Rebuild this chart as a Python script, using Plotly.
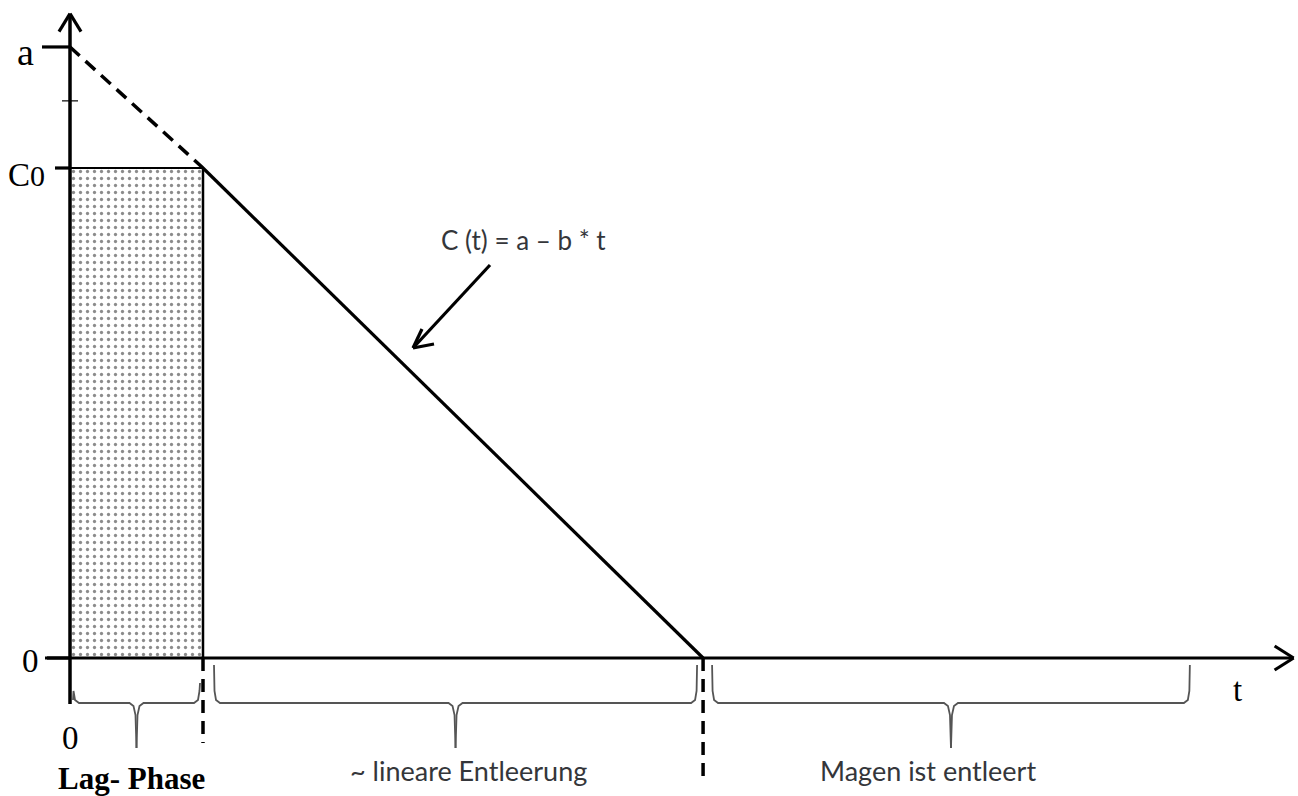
import plotly.graph_objects as go

# ---- data (diagram values, data units) ----
t_lag = 1.0          # end of lag phase
t_empty = 4.76       # stomach empty
t_end = 8.42         # end of last brace
t_axis_end = 9.2     # x-axis arrow tip
C0 = 1.0             # initial content
a_val = 1.247        # intercept a
mid_tick = 1.137     # unlabeled tick between C0 and a
y_axis_top = 1.315
y_ticks = [0.0, C0, a_val]
y_tick_labels = ["0", "C", "a"]
phase_labels = ["<b>Lag- Phase</b>", "~ lineare Entleerung", "Magen ist entleert"]
formula = "C (t) = a \u2013 b * t"

W, H = 1298, 796
OX, OY = 70, 658      # pixel origin
SX, SY = 133.0, 490.0  # pixels per unit


def X(px):
    return (px - OX) / SX


def Y(py):
    return (OY - py) / SY


def PX(x):
    return OX + x * SX


def PY(y):
    return OY - y * SY


fig = go.Figure()
BLACK = "#000000"
DASH = "13px,8px"

# hatched lag-phase rectangle
fig.add_trace(go.Scatter(
    x=[0, t_lag, t_lag, 0, 0], y=[0, 0, C0, C0, 0], mode="lines",
    fill="toself", fillcolor="rgba(255,255,255,0)",
    fillpattern=dict(shape=".", fgcolor="#1a1a1a", bgcolor="white", size=7, solidity=0.17),
    line=dict(color=BLACK, width=2), hoverinfo="skip", showlegend=False))

# dashed extrapolation from a to C0
fig.add_trace(go.Scatter(x=[0, t_lag], y=[a_val, C0], mode="lines",
                         line=dict(color=BLACK, width=3.5, dash=DASH),
                         hoverinfo="skip", showlegend=False))
# linear emptying
fig.add_trace(go.Scatter(x=[t_lag, t_empty], y=[C0, 0], mode="lines",
                         line=dict(color=BLACK, width=3.2), hoverinfo="skip", showlegend=False))

# vertical dashed markers
fig.add_trace(go.Scatter(x=[t_lag, t_lag], y=[C0, 0], mode="lines",
                         line=dict(color=BLACK, width=2.5),
                         hoverinfo="skip", showlegend=False))
fig.add_trace(go.Scatter(x=[t_lag, t_lag], y=[0, Y(743)], mode="lines",
                         line=dict(color=BLACK, width=3.5, dash=DASH),
                         hoverinfo="skip", showlegend=False))
fig.add_trace(go.Scatter(x=[t_empty, t_empty], y=[0, Y(784)], mode="lines",
                         line=dict(color=BLACK, width=3.5, dash=DASH),
                         hoverinfo="skip", showlegend=False))

# axes
fig.add_trace(go.Scatter(x=[X(45), t_axis_end], y=[0, 0], mode="lines",
                         line=dict(color=BLACK, width=3.2), hoverinfo="skip", showlegend=False))
fig.add_trace(go.Scatter(x=[0, 0], y=[Y(704), y_axis_top], mode="lines",
                         line=dict(color=BLACK, width=3.5), hoverinfo="skip", showlegend=False))


def chevron(tip_px, tip_py, wings):
    xs, ys = [], []
    for wx, wy in wings:
        xs += [X(tip_px + wx), X(tip_px), None]
        ys += [Y(tip_py + wy), Y(tip_py), None]
    return xs, ys


# axis arrowheads
tx, ty = PX(0), PY(y_axis_top)
xs, ys = chevron(tx, ty, [(-11, 18), (11, 18)])
fig.add_trace(go.Scatter(x=xs, y=ys, mode="lines", line=dict(color=BLACK, width=3.2),
                         hoverinfo="skip", showlegend=False))
tx, ty = PX(t_axis_end), PY(0)
xs, ys = chevron(tx, ty, [(-19, -12), (-19, 12)])
fig.add_trace(go.Scatter(x=xs, y=ys, mode="lines", line=dict(color=BLACK, width=3.2),
                         hoverinfo="skip", showlegend=False))

# y ticks
tick_specs = [(a_val, 42, 70), (mid_tick, 62, 78), (C0, 55, 70), (0.0, 47, 70)]
for yv, x0p, x1p in tick_specs:
    fig.add_trace(go.Scatter(x=[X(x0p), X(x1p)], y=[yv, yv], mode="lines",
                             line=dict(color=BLACK, width=3.2 if yv != mid_tick else 1.2),
                             hoverinfo="skip", showlegend=False))

# formula arrow
ax0, ay0, ax1, ay1 = 490, 265, 413, 348
fig.add_trace(go.Scatter(x=[X(ax0), X(ax1)], y=[Y(ay0), Y(ay1)], mode="lines",
                         line=dict(color=BLACK, width=3.2), hoverinfo="skip", showlegend=False))
xs, ys = chevron(ax1, ay1, [(9, -19), (21, -4)])
fig.add_trace(go.Scatter(x=xs, y=ys, mode="lines", line=dict(color=BLACK, width=3.2),
                         hoverinfo="skip", showlegend=False))


def brace(x0p, x1p, ytop_l, ytop_r, yh=703, ytip=748):
    xm = (x0p + x1p) / 2
    pts = [(x0p, ytop_l), (x0p + 0.5, yh - 12), (x0p + 2, yh - 3), (x0p + 6, yh),
           (xm - 7, yh), (xm - 3, yh + 3), (xm - 1, yh + 12), (xm, ytip),
           None,
           (xm, ytip), (xm + 1, yh + 12), (xm + 3, yh + 3), (xm + 7, yh),
           (x1p - 6, yh), (x1p - 2, yh - 3), (x1p - 0.5, yh - 12), (x1p, ytop_r)]
    xs = [None if p is None else X(p[0]) for p in pts]
    ys = [None if p is None else Y(p[1]) for p in pts]
    return xs, ys


brace_px = [(73, PX(t_lag) - 3, 700, 683), (PX(t_lag) + 11, PX(t_empty) - 6, 665, 665),
            (PX(t_empty) + 9, PX(t_end), 665, 665)]
for (b0, b1, yl, yr) in brace_px:
    xs, ys = brace(b0, b1, yl, yr)
    fig.add_trace(go.Scatter(x=xs, y=ys, mode="lines", line=dict(color="#555555", width=1.8),
                             hoverinfo="skip", showlegend=False))

SERIF = "Liberation Serif, Times New Roman, serif"
SANS = "Lato, Open Sans, sans-serif"
TXT = "#34363a"

# y tick labels
fig.add_annotation(x=X(25), y=Y(52), text=y_tick_labels[2], showarrow=False,
                   font=dict(family=SERIF, size=38, color=BLACK), xanchor="center", yanchor="middle")
fig.add_annotation(x=X(26), y=Y(175), text="C<span style='font-size:30px'>0</span>",
                   showarrow=False,
                   font=dict(family=SERIF, size=33, color=BLACK), xanchor="center", yanchor="middle")
fig.add_annotation(x=X(30), y=Y(661), text=y_tick_labels[0], showarrow=False,
                   font=dict(family=SERIF, size=33, color=BLACK), xanchor="center", yanchor="middle")
# x labels
fig.add_annotation(x=0, y=Y(738), text="0", showarrow=False,
                   font=dict(family=SERIF, size=33, color=BLACK), xanchor="center", yanchor="middle")
fig.add_annotation(x=X(1237), y=Y(690), text="t", showarrow=False,
                   font=dict(family=SERIF, size=33, color=BLACK), xanchor="center", yanchor="middle")

# phase labels
label_px = [(131, 778, SERIF, 31, BLACK), (468, 770, SANS, 27, TXT),
            (928, 770, SANS, 27, TXT)]
for (lx, ly, fam, sz, col), txt in zip(label_px, phase_labels):
    fig.add_annotation(x=X(lx), y=Y(ly), text=txt, showarrow=False,
                       font=dict(family=fam, size=sz, color=col), xanchor="center", yanchor="middle")

fig.add_annotation(x=X(523), y=Y(240), text=formula, showarrow=False,
                   font=dict(family=SANS, size=26, color=TXT), xanchor="center", yanchor="middle")

fig.update_layout(
    width=W, height=H, margin=dict(l=0, r=0, t=0, b=0),
    paper_bgcolor="white", plot_bgcolor="white", showlegend=False,
    xaxis=dict(range=[X(0), X(W)], visible=False, fixedrange=True),
    yaxis=dict(range=[Y(H), Y(0)], visible=False, fixedrange=True),
)

fig.write_html("out.html", config={"displayModeBar": False},
               post_script="document.body.style.margin='0px';document.documentElement.style.overflow='hidden';")
